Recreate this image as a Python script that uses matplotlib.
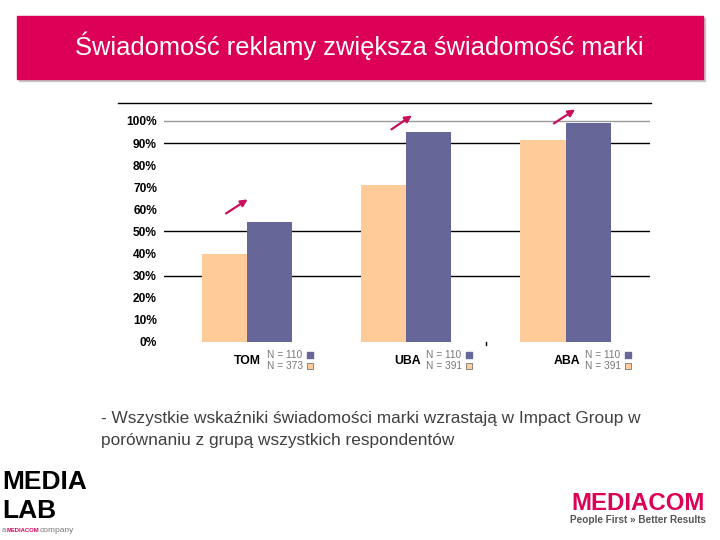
import matplotlib
matplotlib.use('Agg')
import matplotlib.pyplot as plt
from matplotlib.patches import Rectangle
from matplotlib.lines import Line2D

plt.rcParams['font.family'] = ['Liberation Sans', 'DejaVu Sans']

# data
categories = ['TOM', 'UBA', 'ABA']
all_resp = [40, 71, 91.5]      # wszyscy respondenci (orange)
impact = [54.5, 95, 99]        # Impact Group (blue)
n_impact = ['N = 110', 'N = 110', 'N = 110']
n_all = ['N = 373', 'N = 391', 'N = 391']
yticks = list(range(0, 101, 10))
grid_at = [30, 50, 90]

orange = '#FFCC99'
blue = '#666699'
magenta = '#DC0057'

W, H = 720, 540
fig = plt.figure(figsize=(7.2, 5.4), dpi=100)

def fx(px):
    return px / W

def fy(py):
    return 1 - py / H

# title banner
fig.patches.append(Rectangle((fx(19), fy(81)), fx(686) - fx(0), fy(0) - fy(63),
                             transform=fig.transFigure, color='#c8c8c8', zorder=0))
fig.patches.append(Rectangle((fx(17), fy(79)), fx(686) - fx(0), fy(0) - fy(63),
                             transform=fig.transFigure, color=magenta, zorder=1))
fig.text(fx(359), fy(46), 'Świadomość reklamy zwiększa świadomość marki',
         color='white', fontsize=18.4, ha='center', va='center', zorder=2)

# chart
ax = fig.add_axes([fx(164), fy(342), fx(650) - fx(164), fy(103.3) - fy(342)])
x = list(range(len(categories)))
bw = 0.283
ax.bar([i - bw / 2 for i in x], all_resp, bw, color=orange, zorder=3)
ax.bar([i + bw / 2 for i in x], impact, bw, color=blue, zorder=3)
ax.set_xlim(-0.52, 2.53)
ax.set_ylim(0, 108)
for g in grid_at:
    ax.axhline(g, color='black', lw=1.0, zorder=1)
ax.axhline(100, color='#999999', lw=1.0, zorder=1)
for s in ax.spines.values():
    s.set_visible(False)
ax.set_xticks([])
ax.set_yticks(yticks)
ax.set_yticklabels([f'{v}%' for v in yticks], fontsize=8.6, fontweight='bold')
ax.tick_params(axis='y', length=0, pad=5)
ax.plot([1.5, 1.5], [0, -1.5], color='black', lw=1, clip_on=False)

# black line on top
fig.lines.append(Line2D([fx(118), fx(651)], [fy(103), fy(103)],
                        transform=fig.transFigure, color='black', lw=1))

# arrows above each pair
arrow_dx = [(-0.145, 0.02), (-0.107, 0.05), (-0.088, 0.075)]
arrow_y = [(57.5, 65.2), (95.5, 103.2), (98.2, 105.9)]
for i in x:
    ax.annotate('', xy=(i + arrow_dx[i][1], arrow_y[i][1]),
                xytext=(i + arrow_dx[i][0], arrow_y[i][0]),
                arrowprops=dict(arrowstyle='-|>', color='#C8105A', lw=1.6,
                                mutation_scale=10),
                annotation_clip=False)

# category labels with N counts
for i, cat in enumerate(categories):
    ax.text(i + 0.09, -8.8, cat, fontsize=8.8, fontweight='bold',
            ha='right', va='center')
    ax.text(i + 0.125, -5.8, n_impact[i], fontsize=7.3, color='#777777',
            ha='left', va='center')
    ax.text(i + 0.125, -10.8, n_all[i], fontsize=7.3, color='#777777',
            ha='left', va='center')
    ax.scatter([i + 0.395], [-5.8], marker='s', s=24, color=blue,
               clip_on=False)
    ax.scatter([i + 0.395], [-10.8], marker='s', s=24, color=orange,
               edgecolor='#777777', linewidth=0.6, clip_on=False)

# comment below the chart
fig.text(fx(101), fy(418), '- Wszystkie wskaźniki świadomości marki wzrastają w Impact Group w',
         fontsize=12.4, color='#404040', va='center')
fig.text(fx(101), fy(440), 'porównaniu z grupą wszystkich respondentów',
         fontsize=12.4, color='#404040', va='center')

# logos as text
fig.text(fx(2), fy(482), 'MEDIA', fontsize=19, fontweight='bold', color='black',
         va='center')
fig.text(fx(2), fy(511), 'LAB', fontsize=19, fontweight='bold', color='black',
         va='center')
fig.text(fx(2), fy(530), 'a', fontsize=5.5, color='#777777', va='center')
fig.text(fx(7), fy(530), 'MEDIACOM', fontsize=4.2, fontweight='bold',
         color=magenta, va='center')
fig.text(fx(40), fy(530), 'company', fontsize=6, color='#777777', va='center')
fig.text(fx(638), fy(504), 'MEDIACOM', fontsize=17.3, fontweight='bold',
         color=magenta, ha='center', va='center')
fig.text(fx(638), fy(520), 'People First \u00bb Better Results', fontsize=7.2,
         fontweight='bold', color='#555555', ha='center', va='center')

fig.savefig('out.png', dpi=100)
